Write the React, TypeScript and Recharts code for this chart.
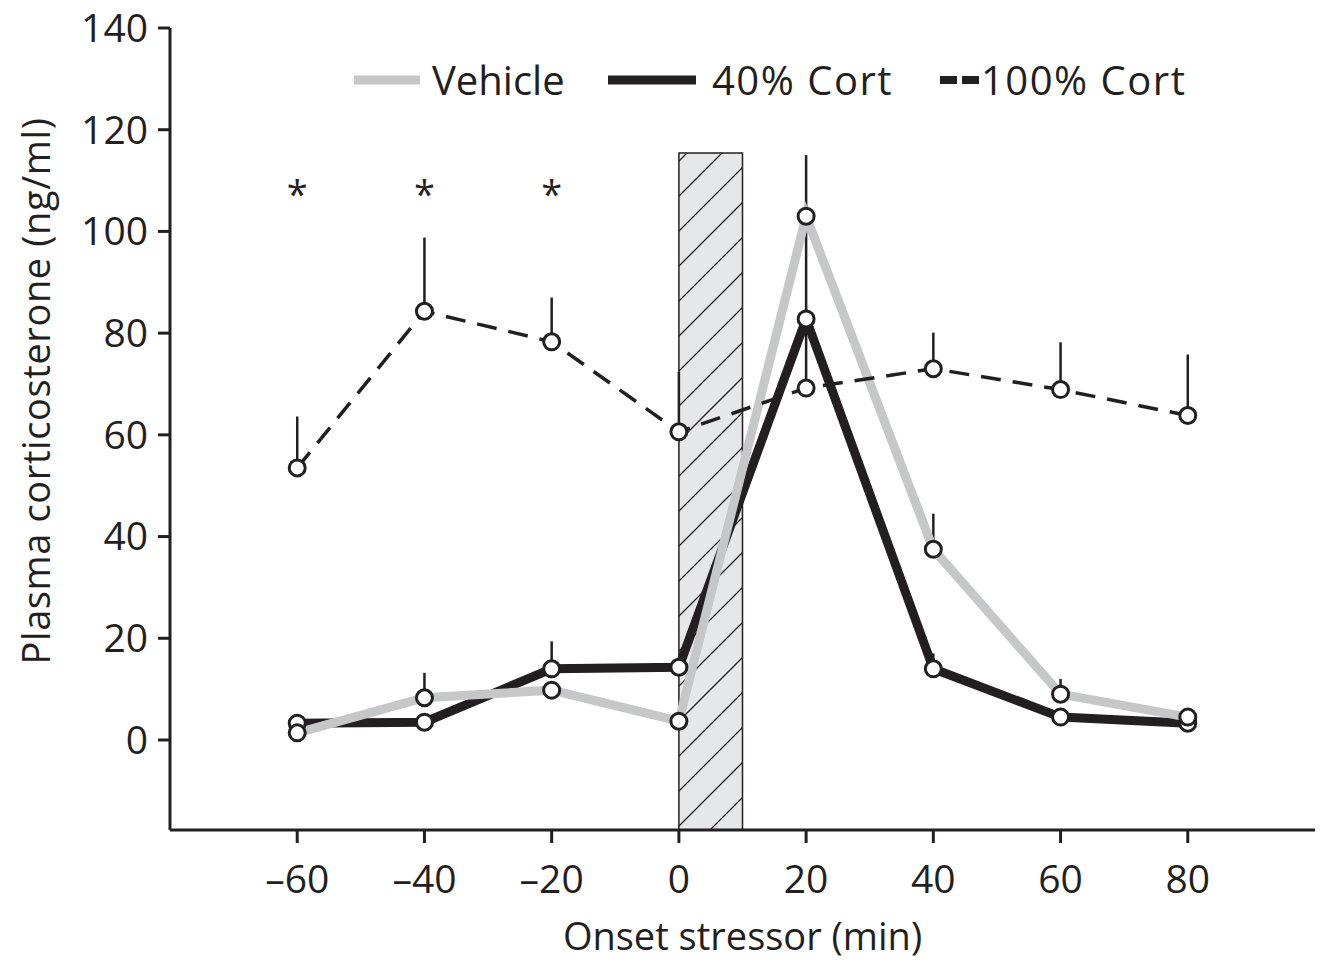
import {
  ComposedChart,
  Line,
  Scatter,
  XAxis,
  YAxis,
  ErrorBar,
  ReferenceArea,
  Legend,
  Label,
} from 'recharts';

// values (plasma corticosterone, ng/ml)
const minutes = [-60, -40, -20, 0, 20, 40, 60, 80];
const vehicle = [1.4, 8.3, 9.8, 3.7, 103, 37.5, 9, 4.5];
const vehicleErrTop = [null, 13.2, null, null, 115, 44.5, 12, null];
const cort40 = [3.3, 3.5, 14, 14.3, 82.8, 14, 4.5, 3.3];
const cort40ErrTop = [null, null, 19.4, null, 101, 17, null, null];
const cort100 = [53.5, 84.3, 78.3, 60.6, 69.2, 73, 68.9, 63.8];
const cort100ErrTop = [63.6, 98.8, 87, 72.4, 81, 80.1, 78.2, 75.8];

const starMinutes = [-60, -40, -20];
const starLevel = 108;

const stressorStart = 0;
const stressorEnd = 10;
const stressorTop = 115.4;

const xTicks = [-60, -40, -20, 0, 20, 40, 60, 80];
const yTicks = [0, 20, 40, 60, 80, 100, 120, 140];

const INK = '#231f20';
const GREY = '#c6c7c9';
const FONT = "'Open Sans', sans-serif";

const err = (top: number | null, v: number) => [0, top == null ? 0 : top - v];

const data = minutes.map((m, i) => ({
  x: m,
  veh: vehicle[i],
  vehErr: err(vehicleErrTop[i], vehicle[i]),
  c40: cort40[i],
  c40Err: err(cort40ErrTop[i], cort40[i]),
  c100: cort100[i],
  c100Err: err(cort100ErrTop[i], cort100[i]),
}));

const starData = starMinutes.map((m) => ({ x: m, star: starLevel }));

const dotStyle = { r: 8, fill: '#fff', stroke: INK, strokeWidth: 3, strokeDasharray: 'none' };

const minus = (v: number) => String(v).replace('-', '\u2013');

const Star = (props: any) => (
  <text
    x={props.cx}
    y={props.cy + 17}
    textAnchor="middle"
    fontFamily={FONT}
    fontSize={38}
    fill={INK}
  >
    *
  </text>
);

const YTitle = ({ viewBox }: any) => {
  const cx = viewBox.x + 35;
  const cy = viewBox.y + viewBox.height / 2 - 38;
  return (
    <text
      x={cx}
      y={cy}
      transform={`rotate(-90, ${cx}, ${cy})`}
      textAnchor="middle"
      dominantBaseline="central"
      fontFamily={FONT}
      fontSize={38}
      letterSpacing={0.6}
      fill={INK}
    >
      Plasma corticosterone (ng/ml)
    </text>
  );
};

// legend entries laid out at the offsets seen in the figure
const legendText: React.CSSProperties = { position: 'absolute', top: 0, lineHeight: '48px' };

const LegendBox = () => (
  <div
    style={{
      position: 'relative',
      height: 48,
      width: 860,
      fontFamily: FONT,
      fontSize: 40,
      color: INK,
    }}
  >
    <svg width={66} height={12} style={{ position: 'absolute', left: 0, top: 18 }}>
      <line x1={0} y1={6} x2={66} y2={6} stroke={GREY} strokeWidth={9} />
    </svg>
    <span style={{ ...legendText, left: 78 }}>Vehicle</span>
    <svg width={88} height={12} style={{ position: 'absolute', left: 254, top: 18 }}>
      <line x1={0} y1={6} x2={88} y2={6} stroke={INK} strokeWidth={9} />
    </svg>
    <span style={{ ...legendText, left: 358, letterSpacing: 1.5 }}>40% Cort</span>
    <svg width={39} height={12} style={{ position: 'absolute', left: 586, top: 18 }}>
      <line x1={0} y1={6} x2={39} y2={6} stroke={INK} strokeWidth={8} strokeDasharray="17 5" />
    </svg>
    <span style={{ ...legendText, left: 627, letterSpacing: 1.5 }}>100% Cort</span>
  </div>
);

export default function App() {
  return (
    <div style={{ margin: '-8px 0 0 -8px' }}>
      <ComposedChart
        width={1323}
        height={962}
        data={data}
        margin={{ top: 28, right: 8, left: 0, bottom: 0 }}
      >
        <defs>
          <pattern id="hatch" patternUnits="userSpaceOnUse" width={35} height={35}>
            <rect width={35} height={35} fill="#e6e7e8" />
            <path
              d="M0,35 L35,0 M-5,5 L5,-5 M30,40 L40,30"
              stroke={INK}
              strokeWidth={1.3}
            />
          </pattern>
        </defs>

        <XAxis
          dataKey="x"
          type="number"
          domain={[-80, 100]}
          ticks={xTicks}
          allowDataOverflow
          tickFormatter={minus}
          height={132}
          stroke={INK}
          strokeWidth={3}
          tickSize={13}
          tickMargin={22}
          tick={{ fontFamily: FONT, fontSize: 39, fill: INK }}
        >
          <Label
            value="Onset stressor (min)"
            position="insideBottom"
            offset={12}
            fontFamily={FONT}
            fontSize={38}
            fill={INK}
          />
        </XAxis>
        <YAxis
          type="number"
          domain={[-17.7, 140]}
          ticks={yTicks}
          allowDataOverflow
          width={170}
          stroke={INK}
          strokeWidth={3}
          tickSize={12}
          tickMargin={10}
          tick={{ fontFamily: FONT, fontSize: 39, fill: INK }}
        >
          <Label content={YTitle} />
        </YAxis>

        <ReferenceArea
          x1={stressorStart}
          x2={stressorEnd}
          y1={-17.7}
          y2={stressorTop}
          fill="url(#hatch)"
          fillOpacity={1}
          stroke={INK}
          strokeWidth={1.5}
        />

        <Line
          dataKey="c40"
          name="40% Cort"
          stroke={INK}
          strokeWidth={9}
          dot={dotStyle}
          isAnimationActive={false}
        >
          <ErrorBar dataKey="c40Err" width={0} stroke={INK} strokeWidth={2.5} />
        </Line>
        <Line
          dataKey="veh"
          name="Vehicle"
          stroke={GREY}
          strokeWidth={9}
          dot={dotStyle}
          isAnimationActive={false}
        >
          <ErrorBar dataKey="vehErr" width={0} stroke={INK} strokeWidth={2.5} />
        </Line>
        <Line
          dataKey="c100"
          name="100% Cort"
          stroke={INK}
          strokeWidth={3.5}
          strokeDasharray="20 12"
          dot={dotStyle}
          isAnimationActive={false}
        >
          <ErrorBar dataKey="c100Err" width={0} stroke={INK} strokeWidth={2.5} />
        </Line>

        <Scatter data={starData} dataKey="star" shape={Star} isAnimationActive={false} />

        <Legend
          content={LegendBox}
          layout="horizontal"
          verticalAlign="middle"
          align="center"
          wrapperStyle={{ top: 56, left: 354, width: 860 }}
        />
      </ComposedChart>
    </div>
  );
}
